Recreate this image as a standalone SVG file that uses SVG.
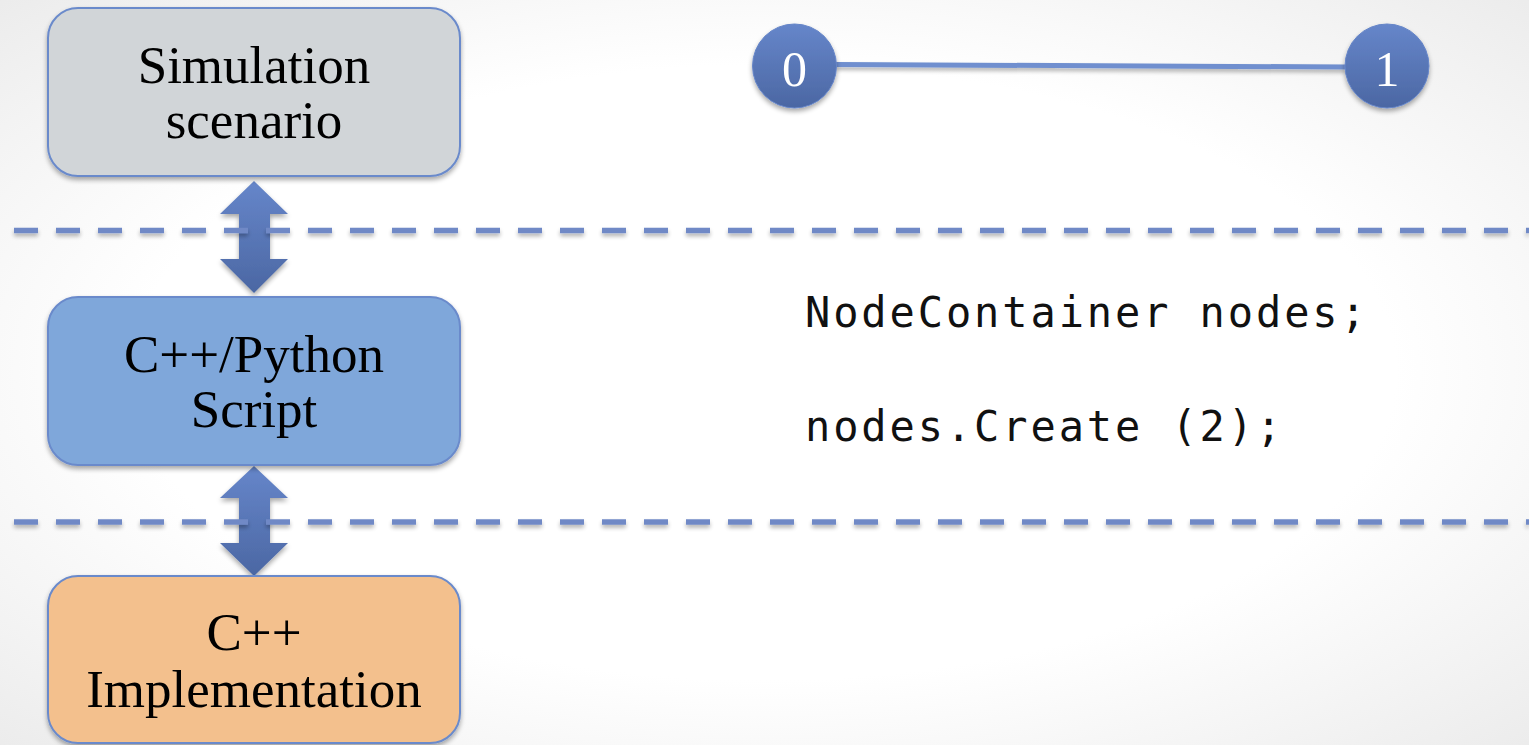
<svg xmlns="http://www.w3.org/2000/svg" width="1529" height="745" viewBox="0 0 1529 745">
  <defs>
    <radialGradient id="bg" cx="50%" cy="50%" r="75%">
      <stop offset="0.55" stop-color="#ffffff"/>
      <stop offset="1" stop-color="#e9e9e9"/>
    </radialGradient>
    <linearGradient id="blueGrad" x1="0" y1="0" x2="0" y2="1">
      <stop offset="0" stop-color="#6686ca"/>
      <stop offset="1" stop-color="#4b67a3"/>
    </linearGradient>
    <filter id="shadow" x="-20%" y="-20%" width="140%" height="150%">
      <feGaussianBlur in="SourceAlpha" stdDeviation="2.5"/>
      <feOffset dx="0" dy="3" result="b"/>
      <feComponentTransfer><feFuncA type="linear" slope="0.35"/></feComponentTransfer>
      <feMerge><feMergeNode/><feMergeNode in="SourceGraphic"/></feMerge>
    </filter>
    <!-- shadow for thin lines: region in user space so flat boxes are not clipped -->
    <filter id="lineShadow" filterUnits="userSpaceOnUse" x="0" y="0" width="1529" height="745">
      <feGaussianBlur in="SourceAlpha" stdDeviation="2"/>
      <feOffset dx="0" dy="3" result="b"/>
      <feComponentTransfer><feFuncA type="linear" slope="0.3"/></feComponentTransfer>
      <feMerge><feMergeNode/><feMergeNode in="SourceGraphic"/></feMerge>
    </filter>
    <style>
      .box { stroke: #6a8acb; stroke-width: 2; filter: url(#shadow); }
      .label { font-family: "Liberation Serif", "Times New Roman", serif; font-size: 53px; fill: #000; text-anchor: middle; }
      .code { font-family: "DejaVu Sans Mono", "Liberation Mono", monospace; font-size: 42px; letter-spacing: 2.9px; fill: #111; }
      .divider { stroke: #7089c6; stroke-width: 5.5; stroke-dasharray: 24 18; fill: none; filter: url(#lineShadow); }
      .arrow { fill: url(#blueGrad); filter: url(#shadow); }
      .node circle { fill: url(#blueGrad); stroke: #6585c8; stroke-width: 1; filter: url(#shadow); }
      .node text { font-family: "Liberation Serif", "Times New Roman", serif; font-size: 50px; fill: #fff; text-anchor: middle; }
      .link { stroke: #6f8fcf; stroke-width: 5; fill: none; filter: url(#lineShadow); }
    </style>
  </defs>

  <!-- background -->
  <rect x="0" y="0" width="1529" height="745" fill="url(#bg)"/>

  <!-- connectors between the layer boxes and the topology link -->
  <g id="connectors">
    <path class="arrow" d="M254,181 L288,214 L270,214 L270,259 L288,259 L254,293 L220,259 L239,259 L239,214 L220,214 Z"/>
    <path class="arrow" d="M254,466 L288,498 L270,498 L270,543 L288,543 L254,576 L220,543 L239,543 L239,498 L220,498 Z"/>
    <line class="link" x1="836" y1="64.5" x2="1346" y2="67"/>
  </g>

  <!-- layer dividers -->
  <g id="dividers">
    <line class="divider" x1="14" y1="230.5" x2="1529" y2="230.5"/>
    <line class="divider" x1="14" y1="522" x2="1529" y2="522"/>
  </g>

  <g id="box-scenario">
    <rect class="box" x="48" y="8" width="412" height="168" rx="30" fill="#d1d5d8"/>
    <text class="label" x="254" y="83">Simulation</text>
    <text class="label" x="254" y="138">scenario</text>
  </g>

  <g id="box-script">
    <rect class="box" x="48" y="297" width="412" height="168" rx="30" fill="#7fa7da"/>
    <text class="label" x="254" y="372">C++/Python</text>
    <text class="label" x="254" y="427">Script</text>
  </g>

  <g id="box-impl">
    <rect class="box" x="48" y="576" width="412" height="167" rx="30" fill="#f3c08d"/>
    <text class="label" x="254" y="650">C++</text>
    <text class="label" x="254" y="707">Implementation</text>
  </g>

  <g id="node-0" class="node">
    <circle cx="794.5" cy="66" r="42"/>
    <text x="794.5" y="86">0</text>
  </g>

  <g id="node-1" class="node">
    <circle cx="1387" cy="66" r="42"/>
    <text x="1387" y="86">1</text>
  </g>

  <g id="code">
    <text class="code" x="805" y="327">NodeContainer nodes;</text>
    <text class="code" x="805" y="441">nodes.Create (2);</text>
  </g>
</svg>
